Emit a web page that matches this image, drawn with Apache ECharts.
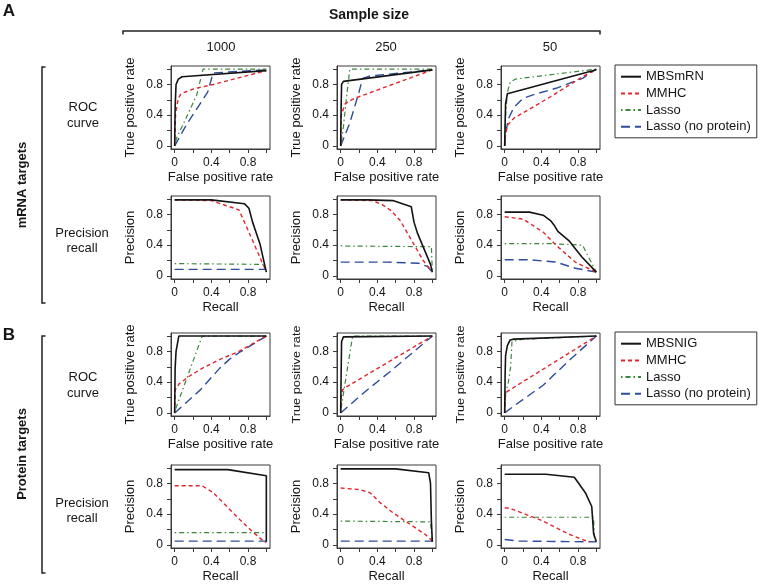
<!DOCTYPE html>
<html>
<head>
<meta charset="utf-8">
<script src="https://cdn.jsdelivr.net/npm/echarts@6/dist/echarts.min.js"></script>
<style>
html,body{margin:0;padding:0;background:#fff;}
#chart{width:760px;height:584px;}
</style>
</head>
<body>
<div id="chart"></div>
<script>
// ---------- data ----------
const sampleSizes = ['1000', '250', '50'];
const methodNamesA = ['MBSmRN', 'MMHC', 'Lasso', 'Lasso (no protein)'];
const methodNamesB = ['MBSNIG', 'MMHC', 'Lasso', 'Lasso (no protein)'];
const tickValues = [0, 0.2, 0.4, 0.6, 0.8, 1.0];
const tickLabels = [0, 0.4, 0.8];

// A: mRNA targets, ROC curves  [FPR, TPR]
const A_roc_1000_mbs   = [[0,0],[0.005,0.5],[0.015,0.8],[0.04,0.87],[0.08,0.9],[1,0.98]];
const A_roc_1000_mmhc  = [[0,0],[0.01,0.42],[0.04,0.62],[0.07,0.68],[0.2,0.74],[0.42,0.8],[1,0.98]];
const A_roc_1000_lasso = [[0,0],[0.02,0.1],[0.1,0.3],[0.24,0.66],[0.31,1],[1,1]];
const A_roc_1000_lnp   = [[0,0],[0.13,0.28],[0.36,0.7],[0.42,0.95],[1,0.99]];

const A_roc_250_mbs   = [[0,0],[0.005,0.5],[0.01,0.8],[0.03,0.84],[1,0.99]];
const A_roc_250_mmhc  = [[0,0],[0.005,0.4],[0.05,0.55],[0.15,0.62],[0.2,0.64],[1,0.99]];
const A_roc_250_lasso = [[0,0],[0.03,0.25],[0.07,0.7],[0.1,1],[1,1]];
const A_roc_250_lnp   = [[0,0],[0.1,0.3],[0.2,0.7],[0.24,0.88],[0.32,0.91],[1,0.99]];

const A_roc_50_mbs   = [[0,0],[0.005,0.3],[0.01,0.55],[0.03,0.68],[0.04,0.7],[1,0.99]];
const A_roc_50_mmhc  = [[0,0],[0.01,0.15],[0.03,0.27],[0.1,0.36],[0.5,0.64],[0.85,0.9],[1,1]];
const A_roc_50_lasso = [[0,0],[0.01,0.4],[0.03,0.7],[0.06,0.83],[0.12,0.87],[1,1]];
const A_roc_50_lnp   = [[0,0],[0.01,0.16],[0.04,0.35],[0.1,0.5],[0.2,0.62],[0.35,0.68],[0.56,0.75],[0.85,0.88],[1,1]];

// A: mRNA targets, precision-recall  [recall, precision]
const A_pr_1000_mbs   = [[0,0.99],[0.4,0.99],[0.76,0.94],[0.81,0.88],[0.85,0.7],[0.93,0.42],[1,0.05]];
const A_pr_1000_mmhc  = [[0,0.99],[0.4,0.98],[0.55,0.92],[0.7,0.86],[0.78,0.65],[0.85,0.46],[0.96,0.16],[1,0.06]];
const A_pr_1000_lasso = [[0,0.16],[1,0.15]];
const A_pr_1000_lnp   = [[0,0.085],[1,0.085]];

const A_pr_250_mbs   = [[0,0.99],[0.3,0.99],[0.57,0.98],[0.77,0.9],[0.8,0.7],[0.84,0.55],[0.98,0.15],[1,0.05]];
const A_pr_250_mmhc  = [[0,0.99],[0.35,0.98],[0.45,0.93],[0.55,0.85],[0.65,0.72],[0.78,0.45],[0.9,0.2],[1,0.05]];
const A_pr_250_lasso = [[0,0.39],[0.99,0.38],[1,0.05]];
const A_pr_250_lnp   = [[0,0.18],[0.5,0.18],[0.85,0.165],[0.95,0.12],[1,0.05]];

const A_pr_50_mbs   = [[0,0.83],[0.27,0.83],[0.42,0.79],[0.5,0.72],[0.54,0.66],[0.58,0.58],[0.7,0.46],[0.84,0.25],[1,0.05]];
const A_pr_50_mmhc  = [[0,0.77],[0.2,0.74],[0.42,0.57],[0.56,0.4],[0.77,0.18],[1,0.05]];
const A_pr_50_lasso = [[0,0.42],[0.5,0.42],[0.85,0.4],[0.9,0.28],[1,0.05]];
const A_pr_50_lnp   = [[0,0.21],[0.27,0.21],[0.56,0.18],[0.77,0.1],[1,0.05]];

// B: protein targets, ROC curves
const B_roc_1000_mbs   = [[0,0],[0.005,0.58],[0.015,0.8],[0.045,1],[1,1]];
const B_roc_1000_mmhc  = [[0,0],[0.005,0.3],[0.05,0.38],[0.15,0.47],[0.3,0.58],[0.5,0.7],[0.7,0.8],[1,1]];
const B_roc_1000_lasso = [[0,0],[0.01,0.05],[0.3,1],[1,1]];
const B_roc_1000_lnp   = [[0,0],[0.14,0.15],[0.28,0.3],[0.49,0.58],[0.6,0.7],[0.71,0.79],[0.89,0.92],[1,1]];

const B_roc_250_mbs   = [[0,0],[0.005,0.5],[0.01,0.93],[0.03,0.99],[1,1]];
const B_roc_250_mmhc  = [[0,0],[0.005,0.2],[0.02,0.3],[0.05,0.33],[1,1]];
const B_roc_250_lasso = [[0,0],[0.01,0.1],[0.13,1],[1,1]];
const B_roc_250_lnp   = [[0,0],[0.25,0.26],[0.53,0.53],[1,1]];

const B_roc_50_mbs   = [[0,0],[0.005,0.5],[0.01,0.75],[0.03,0.88],[0.06,0.95],[0.1,0.96],[1,1]];
const B_roc_50_mmhc  = [[0,0],[0.005,0.15],[0.01,0.25],[0.03,0.28],[1,1]];
const B_roc_50_lasso = [[0,0],[0.01,0.25],[0.04,0.4],[0.065,0.6],[0.08,0.93],[0.2,0.96],[1,1]];
const B_roc_50_lnp   = [[0,0],[0.135,0.12],[0.42,0.36],[0.7,0.68],[1,1]];

// B: protein targets, precision-recall
const B_pr_1000_mbs   = [[0,0.98],[0.58,0.98],[1,0.9],[1,0.04]];
const B_pr_1000_mmhc  = [[0,0.77],[0.3,0.77],[0.42,0.68],[0.57,0.5],[0.71,0.33],[0.85,0.17],[0.96,0.06],[1,0.03]];
const B_pr_1000_lasso = [[0,0.16],[1,0.16]];
const B_pr_1000_lnp   = [[0,0.05],[1,0.05]];

const B_pr_250_mbs   = [[0,0.99],[0.6,0.99],[0.96,0.94],[0.98,0.8],[0.99,0.3],[1,0.04]];
const B_pr_250_mmhc  = [[0,0.74],[0.21,0.72],[0.32,0.68],[0.43,0.55],[0.57,0.42],[0.68,0.33],[0.93,0.13],[1,0.05]];
const B_pr_250_lasso = [[0,0.31],[0.98,0.3],[1,0.05]];
const B_pr_250_lnp   = [[0,0.05],[1,0.05]];

const B_pr_50_mbs   = [[0,0.92],[0.45,0.92],[0.76,0.88],[0.82,0.78],[0.88,0.68],[0.95,0.5],[0.97,0.15],[1,0.04]];
const B_pr_50_mmhc  = [[0,0.48],[0.05,0.48],[0.42,0.31],[0.7,0.14],[0.85,0.07],[0.92,0.04]];
const B_pr_50_lasso = [[0,0.36],[0.97,0.36],[0.98,0.05]];
const B_pr_50_lnp   = [[0,0.07],[0.15,0.05],[1,0.04]];

// ---------- layout / styles ----------
const FONT = '"Liberation Sans", Arial, Helvetica, sans-serif';
const INK = '#161616';
const colX = [171, 337, 501];
const rowY = [66, 196, 333, 465];
const BOX_W = 99, BOX_H = 83;

const lineStyles = [
  {color: '#141414', width: 1.6, type: 'solid'},           // MBS
  {color: '#e2262d', width: 1.4, type: [4, 3]},            // MMHC
  {color: '#3a873a', width: 1.2, type: [1.5, 3, 5, 3]},    // Lasso
  {color: '#2c4c9c', width: 1.4, type: [9, 5]}             // Lasso (no protein)
];

const panels = [
  {r:0,c:0,k:'roc',names:methodNamesA,d:[A_roc_1000_mbs,A_roc_1000_mmhc,A_roc_1000_lasso,A_roc_1000_lnp]},
  {r:0,c:1,k:'roc',names:methodNamesA,d:[A_roc_250_mbs,A_roc_250_mmhc,A_roc_250_lasso,A_roc_250_lnp]},
  {r:0,c:2,k:'roc',names:methodNamesA,d:[A_roc_50_mbs,A_roc_50_mmhc,A_roc_50_lasso,A_roc_50_lnp]},
  {r:1,c:0,k:'pr',names:methodNamesA,d:[A_pr_1000_mbs,A_pr_1000_mmhc,A_pr_1000_lasso,A_pr_1000_lnp]},
  {r:1,c:1,k:'pr',names:methodNamesA,d:[A_pr_250_mbs,A_pr_250_mmhc,A_pr_250_lasso,A_pr_250_lnp]},
  {r:1,c:2,k:'pr',names:methodNamesA,d:[A_pr_50_mbs,A_pr_50_mmhc,A_pr_50_lasso,A_pr_50_lnp]},
  {r:2,c:0,k:'roc',names:methodNamesB,d:[B_roc_1000_mbs,B_roc_1000_mmhc,B_roc_1000_lasso,B_roc_1000_lnp]},
  {r:2,c:1,k:'roc',names:methodNamesB,d:[B_roc_250_mbs,B_roc_250_mmhc,B_roc_250_lasso,B_roc_250_lnp],small:true},
  {r:2,c:2,k:'roc',names:methodNamesB,d:[B_roc_50_mbs,B_roc_50_mmhc,B_roc_50_lasso,B_roc_50_lnp],small:true},
  {r:3,c:0,k:'pr',names:methodNamesB,d:[B_pr_1000_mbs,B_pr_1000_mmhc,B_pr_1000_lasso,B_pr_1000_lnp]},
  {r:3,c:1,k:'pr',names:methodNamesB,d:[B_pr_250_mbs,B_pr_250_mmhc,B_pr_250_lasso,B_pr_250_lnp]},
  {r:3,c:2,k:'pr',names:methodNamesB,d:[B_pr_50_mbs,B_pr_50_mmhc,B_pr_50_lasso,B_pr_50_lnp]}
];

const F13 = '13px ' + FONT;
const smallNames = [];
const grids = [], xAxes = [], yAxes = [], series = [];
panels.forEach((p, i) => {
  grids.push({left: colX[p.c], top: rowY[p.r], width: BOX_W, height: BOX_H,
    show: true, borderColor: '#3a3a3a', borderWidth: 1, backgroundColor: 'transparent',
    outerBoundsMode: 'none', containLabel: false});
  const common = {
    type: 'value', gridIndex: i, min: -0.04, max: 1.04,
    splitLine: {show: false},
    axisLine: {show: true, onZero: false, lineStyle: {color: '#3a3a3a', width: 1}},
    axisTick: {show: true, length: 4, inside: false, customValues: tickValues, lineStyle: {color: '#3a3a3a', width: 1}},
    nameLocation: 'middle',
    nameTextStyle: {fontFamily: FONT, fontSize: 13, color: INK}
  };
  xAxes.push(Object.assign({}, common, {
    position: 'bottom',
    name: p.k === 'roc' ? 'False positive rate' : 'Recall',
    nameGap: 21.5,
    axisLabel: {customValues: tickLabels, margin: 7.5, fontFamily: FONT, fontSize: 12, color: INK,
      formatter: v => String(v)}
  }));
  const yName = p.k === 'roc' ? 'True positive rate' : 'Precision';
  if (p.small) {
    // this label is typeset narrower in the source; drawn as stretched small text
    smallNames.push({type: 'text', x: colX[p.c] - 40.5, y: rowY[p.r] + BOX_H / 2,
      rotation: Math.PI / 2, scaleX: 1.16, scaleY: 1, silent: true,
      style: {text: yName, font: '11px ' + FONT, fill: INK, align: 'center', verticalAlign: 'middle',
        textAlign: 'center', textVerticalAlign: 'middle'}});
  }
  yAxes.push(Object.assign({}, common, {
    position: 'left',
    name: p.small ? '' : yName,
    nameGap: 34,
    axisLabel: {customValues: tickLabels, margin: 8, fontFamily: FONT, fontSize: 12, color: INK,
      formatter: v => String(v)}
  }));
  [3, 2, 1, 0].forEach(m => {
    series.push({
      type: 'line', name: p.names[m], xAxisIndex: i, yAxisIndex: i,
      data: p.d[m], symbol: 'none', showSymbol: false, smooth: false,
      lineStyle: Object.assign({}, lineStyles[m]), itemStyle: {color: lineStyles[m].color},
      z: 2 + (3 - m), silent: true, animation: false, clip: true
    });
  });
});

const legendCommon = {
  orient: 'vertical', left: 615, itemWidth: 20, itemHeight: 14, itemGap: 2.7,
  padding: [4.7, 6, 4, 5], borderColor: '#333', borderWidth: 1, backgroundColor: '#fff',
  textStyle: {fontFamily: FONT, fontSize: 13, color: INK, lineHeight: 14}, selectedMode: false,
  itemStyle: {opacity: 0, borderWidth: 0}
};
const legends = [
  Object.assign({}, legendCommon, {top: 65, data: methodNamesA}),
  Object.assign({}, legendCommon, {top: 332, data: methodNamesB})
];

function txt(x, y, s, font, rot) {
  return {type: 'text', x: x, y: y, rotation: rot || 0, silent: true,
    style: {text: s, font: font, fill: INK, align: 'center', verticalAlign: 'middle',
      textAlign: 'center', textVerticalAlign: 'middle'}};
}
function pline(pts) {
  return {type: 'polyline', silent: true, shape: {points: pts},
    style: {stroke: '#222', lineWidth: 1.5, fill: null}};
}
const graphics = [
  txt(9, 11, 'A', 'bold 17px ' + FONT),
  txt(9, 335, 'B', 'bold 17px ' + FONT),
  txt(369, 15, 'Sample size', 'bold 14px ' + FONT),
  pline([[123, 34.5], [123, 31], [600, 31], [600, 34.5]]),
  txt(221, 47, sampleSizes[0], F13),
  txt(386, 47, sampleSizes[1], F13),
  txt(550, 47, sampleSizes[2], F13),
  pline([[45.5, 67], [42, 67], [42, 303], [45.5, 303]]),
  pline([[45.5, 336], [42, 336], [42, 573], [45.5, 573]]),
  txt(22, 185, 'mRNA targets', 'bold 13px ' + FONT, Math.PI / 2),
  txt(22, 454, 'Protein targets', 'bold 13px ' + FONT, Math.PI / 2),
  txt(83, 107, 'ROC', F13), txt(83, 123, 'curve', F13),
  txt(82, 233, 'Precision', F13), txt(82, 248.5, 'recall', F13),
  txt(83, 377, 'ROC', F13), txt(83, 393, 'curve', F13),
  txt(82, 503, 'Precision', F13), txt(82, 518.5, 'recall', F13)
].concat(smallNames);

const chart = echarts.init(document.getElementById('chart'), null, {renderer: 'canvas'});
chart.setOption({
  animation: false,
  backgroundColor: '#fff',
  textStyle: {fontFamily: FONT},
  grid: grids, xAxis: xAxes, yAxis: yAxes,
  series: series,
  legend: legends,
  graphic: graphics
});
</script>
</body>
</html>
